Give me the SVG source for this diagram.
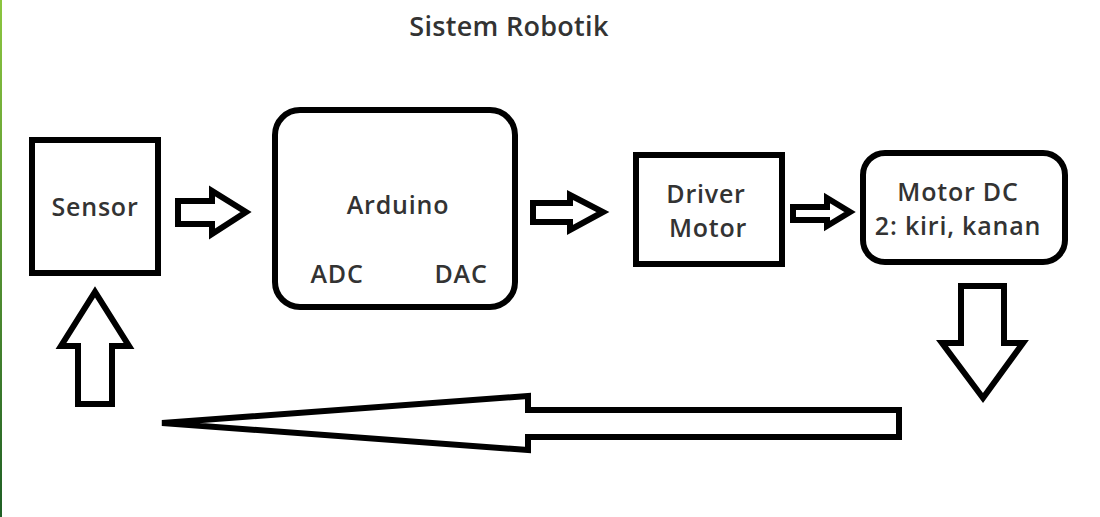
<svg xmlns="http://www.w3.org/2000/svg" width="1100" height="517" viewBox="0 0 1100 517">
<defs>
<linearGradient id="edge" x1="0" y1="0" x2="0" y2="1">
<stop offset="0" stop-color="#8cc63f"/>
<stop offset="1" stop-color="#1f5f25"/>
</linearGradient>
</defs>
<style>
.box{fill:#fff;stroke:#000;stroke-width:6}
.arr{fill:#fff;stroke:#000;stroke-width:6;stroke-linejoin:miter}
.lbl{font-family:"Open Sans","Noto Sans","Liberation Sans",sans-serif;font-weight:600;font-size:25px;letter-spacing:0.8px;fill:#333;text-anchor:middle}
.ttl{font-size:27px;letter-spacing:0.3px}
</style>
<rect x="0" y="0" width="1100" height="517" fill="#fff"/>
<rect x="0" y="0" width="2" height="517" fill="url(#edge)"/>
<text class="lbl ttl" x="509" y="36">Sistem Robotik</text>
<g id="sensor">
<rect class="box" x="32" y="140" width="126" height="133"/>
<text class="lbl" x="95" y="216">Sensor</text>
</g>
<g id="arduino">
<rect class="box" x="275" y="110" width="240" height="197" rx="25"/>
<text class="lbl" x="398" y="214">Arduino</text>
<text class="lbl" x="337" y="283">ADC</text>
<text class="lbl" x="461" y="283">DAC</text>
</g>
<g id="driver">
<rect class="box" x="636" y="155" width="146" height="109"/>
<text class="lbl" x="706" y="203">Driver</text>
<text class="lbl" x="708" y="237">Motor</text>
</g>
<g id="motordc">
<rect class="box" x="863" y="153" width="202" height="109" rx="22"/>
<text class="lbl" x="958" y="201">Motor DC</text>
<text class="lbl" x="958" y="235">2: kiri, kanan</text>
</g>
<g id="connectors">
<polygon class="arr" points="178,201 212,201 212,191 246,212 212,234 212,224 178,224"/>
<polygon class="arr" points="533,203 570,203 570,195 603,212 570,230 570,222 533,222"/>
<polygon class="arr" points="793,207 827,207 827,198 850,212 827,226 827,220 793,220"/>
<polygon class="arr" points="961,286 1004,286 1004,343 1023,343 983,398 942,343 961,343"/>
<polygon class="arr" points="899,410 528,410 528,396 162,423 528,450 528,437 899,437"/>
<polygon class="arr" points="78,404 78,346 61,346 95,292 129,346 112,346 112,404"/>
</g>
</svg>
